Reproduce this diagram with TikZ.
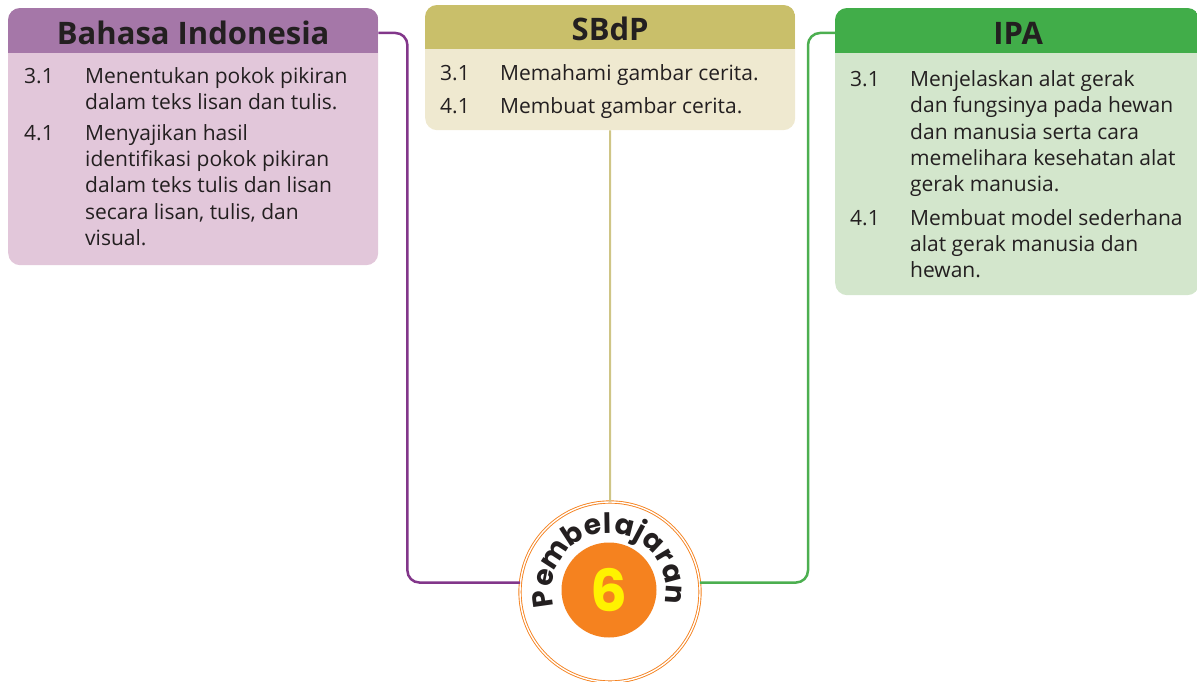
\documentclass[tikz,border=0pt]{standalone}
\usepackage{fontspec}
\setmainfont{Open Sans}
\newfontfamily\roundfont{Poppins}
\usetikzlibrary{positioning,calc}
\definecolor{ink}{HTML}{231F20}
\definecolor{bihead}{HTML}{A577A8}
\definecolor{bibody}{HTML}{E2C7DA}
\definecolor{biline}{HTML}{82368A}
\definecolor{sbhead}{HTML}{C9BF6A}
\definecolor{sbbody}{HTML}{EFE9D0}
\definecolor{sbline}{HTML}{CFC586}
\definecolor{ipahead}{HTML}{41AD49}
\definecolor{ipabody}{HTML}{D3E6CC}
\definecolor{ipaline}{HTML}{4CAF50}
\definecolor{porange}{HTML}{F5821F}
\definecolor{pyellow}{HTML}{FFF200}

\begin{document}
\begin{tikzpicture}
  [x=1pt,y=-1pt,
   box/.style={rounded corners=12pt, anchor=north west, inner sep=0pt},
   head/.style={font=\fontsize{31}{32}\selectfont\bfseries, text=ink},
   body/.style={anchor=north west, inner sep=0pt, font=\fontsize{21}{26.3}\selectfont, text=ink},
   letter/.style={anchor=base, inner sep=0pt, text=ink, font=\roundfont\fontsize{28}{28}\selectfont\bfseries},
   link/.style={line width=2.5pt, rounded corners=12pt},
  ]
 \useasboundingbox (0,0) rectangle (1197,682);

 % boxes
 \node[box, fill=bibody, minimum width=370pt, minimum height=257pt] (bi) at (8,8) {};
 \node[box, fill=sbbody, minimum width=370pt, minimum height=125pt] (sb) at (425,5) {};
 \node[box, fill=ipabody, minimum width=364pt, minimum height=287pt] (ipa) at (835,8) {};

 \begin{scope}
  \clip[rounded corners=12pt] (bi.north west) rectangle (bi.south east);
  \fill[bihead] (bi.north west) rectangle ([yshift=-45pt]bi.north east);
 \end{scope}
 \begin{scope}
  \clip[rounded corners=12pt] (sb.north west) rectangle (sb.south east);
  \fill[sbhead] (sb.north west) rectangle ([yshift=-44pt]sb.north east);
 \end{scope}
 \begin{scope}
  \clip[rounded corners=12pt] (ipa.north west) rectangle (ipa.south east);
  \fill[ipahead] (ipa.north west) rectangle ([yshift=-45pt]ipa.north east);
 \end{scope}

 \node[head] (bit) at ([yshift=-25pt]bi.north) {Bahasa Indonesia};
 \node[head] (sbt) at ([yshift=-24pt]sb.north) {SBdP};
 \node[head] (ipat) at ([xshift=1pt,yshift=-25pt]ipa.north) {IPA};

 \node[body] (bib) at ([xshift=16pt,yshift=-57pt]bi.north west) {%
  \begin{tabular}{@{}p{61pt}@{}l@{}}
   3.1 & Menentukan pokok pikiran\\
       & dalam teks lisan dan tulis.\\[4pt]
   4.1 & Menyajikan hasil\\
       & identifikasi pokok pikiran\\
       & dalam teks tulis dan lisan\\
       & secara lisan, tulis, dan\\
       & visual.
  \end{tabular}};
 \node[body] (sbb) at ([xshift=15pt,yshift=-57pt]sb.north west) {%
  \begin{tabular}{@{}p{60pt}@{}l@{}}
   3.1 & Memahami gambar cerita.\\[7pt]
   4.1 & Membuat gambar cerita.
  \end{tabular}};
 \node[body] (ipab) at ([xshift=15pt,yshift=-60pt]ipa.north west) {%
  \begin{tabular}{@{}p{60pt}@{}l@{}}
   3.1 & Menjelaskan alat gerak\\
       & dan fungsinya pada hewan\\
       & dan manusia serta cara\\
       & memelihara kesehatan alat\\
       & gerak manusia.\\[7pt]
   4.1 & Membuat model sederhana\\
       & alat gerak manusia dan\\
       & hewan.
  \end{tabular}};

 % centre badge
 \node[circle, draw=porange, double=white, double distance=1.4pt, line width=0.9pt,
       fill=white, minimum size=180pt, inner sep=0pt] (p6) at (610,592) {};
 \node[circle, fill=porange, minimum size=95pt, inner sep=0pt] (num) at (609,590)
      {\roundfont\fontsize{58}{58}\selectfont\bfseries\color{pyellow}6};
 \foreach \ch/\ang [count=\i] in {P/188,e/169,m/147,b/123,e/104,l/91,a/76,j/62,a/47,r/31,a/15,n/-4}
   \node[letter, rotate=\ang-90] (pl\i) at ($(num.center)+(\ang:57pt)$) {\ch};

 % connectors
 \draw[link, biline] (bi.east |- bit) -- ++(29pt,0) |- (p6.174);
 \draw[link, sbline, line width=2pt] (sb.south) -- (p6.north);
 \draw[link, ipaline] (ipa.west |- ipat) -- ++(-27pt,0) |- (p6.6);

\end{tikzpicture}
\end{document}
